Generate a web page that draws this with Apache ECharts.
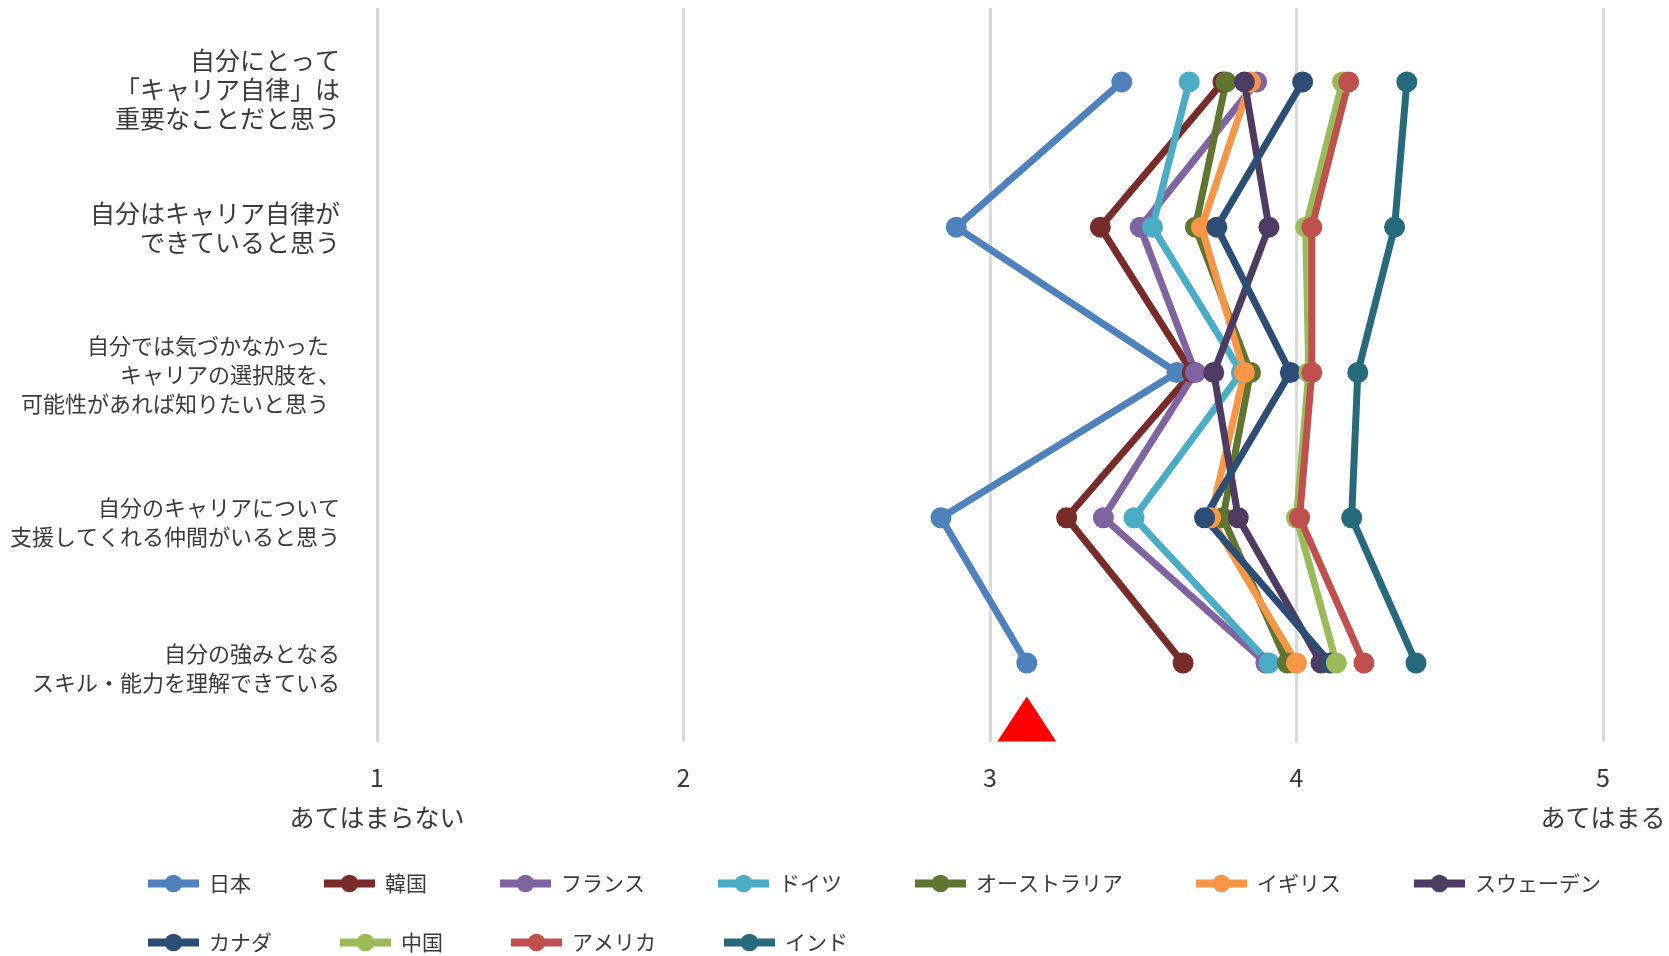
<!DOCTYPE html>
<html>
<head>
<meta charset="utf-8">
<script src="https://cdn.jsdelivr.net/npm/echarts@6/dist/echarts.min.js"></script>
<style>
  html, body { margin: 0; padding: 0; background: #ffffff; }
  #chart { width: 1669px; height: 956px; }
</style>
</head>
<body>
<div id="chart"></div>
<script>
// Survey statements (top to bottom)
const questions = [
  '自分にとって\n「キャリア自律」は\n重要なことだと思う',
  '自分はキャリア自律が\nできていると思う',
  '自分では気づかなかった\u2002\nキャリアの選択肢を、\n可能性があれば知りたいと思う\u2002',
  '自分のキャリアについて\n支援してくれる仲間がいると思う',
  '自分の強みとなる\nスキル・能力を理解できている'
];

// Mean score per statement (1 = あてはまらない … 5 = あてはまる)
const japan     = [3.43, 2.89, 3.61, 2.84, 3.12];
const korea     = [3.76, 3.36, 3.66, 3.25, 3.63];
const france    = [3.87, 3.49, 3.67, 3.37, 3.90];
const germany   = [3.65, 3.53, 3.82, 3.47, 3.91];
const australia = [3.77, 3.67, 3.85, 3.76, 3.97];
const uk        = [3.85, 3.69, 3.83, 3.72, 4.00];
const sweden    = [3.83, 3.91, 3.73, 3.81, 4.08];
const canada    = [4.02, 3.74, 3.98, 3.70, 4.11];
const china     = [4.15, 4.03, 4.04, 4.00, 4.13];
const usa       = [4.17, 4.05, 4.05, 4.01, 4.22];
const india     = [4.36, 4.32, 4.20, 4.18, 4.39];

const xTicks = [1, 2, 3, 4, 5];
const lowEndLabel = 'あてはまらない';
const highEndLabel = 'あてはまる';

const countryRows = [
  { name: '日本',           color: '#4F81BD', values: japan },
  { name: '韓国',           color: '#772C2A', values: korea },
  { name: 'フランス',       color: '#8064A2', values: france },
  { name: 'ドイツ',         color: '#4BACC6', values: germany },
  { name: 'オーストラリア', color: '#5F7530', values: australia },
  { name: 'イギリス',       color: '#F79646', values: uk },
  { name: 'スウェーデン',   color: '#4D3B62', values: sweden },
  { name: 'カナダ',         color: '#2C4D75', values: canada },
  { name: '中国',           color: '#9BBB59', values: china },
  { name: 'アメリカ',       color: '#C0504D', values: usa },
  { name: 'インド',         color: '#276A7C', values: india }
];

const FONT = '"Noto Sans CJK JP", "Noto Sans", sans-serif';
const TEXT_COLOR = '#3a3a3a';

// hidden numeric row axis: statement i sits at value (n - i)
const rowCount = questions.length;
const rowMin = 0.456;
const rowMax = 5.509;

const lineSeries = countryRows.map(c => ({
  name: c.name,
  type: 'line',
  yAxisIndex: 1,
  data: c.values.map((v, i) => [v, rowCount - i]),
  symbol: 'circle',
  symbolSize: 21,
  showSymbol: true,
  lineStyle: { width: 7, color: c.color },
  itemStyle: { color: c.color },
  emphasis: { disabled: true },
  clip: false,
  z: 2
}));

// red pointer under Japan's last statement
const pointerSeries = {
  name: 'pointer',
  type: 'scatter',
  yAxisIndex: 1,
  data: [[japan[rowCount - 1], rowMin]],
  symbol: 'triangle',
  symbolSize: [59, 45],
  symbolOffset: [0, -23],
  itemStyle: { color: '#FF0000', opacity: 1 },
  emphasis: { disabled: true },
  clip: false,
  silent: true,
  z: 3
};

const legendCommon = {
  left: 144,
  padding: 0,
  orient: 'horizontal',
  itemWidth: 51,
  itemHeight: 22,
  selectedMode: false,
  lineStyle: { width: 8 },
  textStyle: { fontFamily: FONT, fontSize: 21, color: TEXT_COLOR, padding: [0, 0, 0, 5] }
};

const chart = echarts.init(document.getElementById('chart'), null, { renderer: 'canvas' });

chart.setOption({
  animation: false,
  backgroundColor: '#ffffff',
  textStyle: { fontFamily: FONT },
  grid: { left: 377, right: 66, top: 8, bottom: 214, outerBoundsMode: 'none', containLabel: false },
  legend: [
    Object.assign({}, legendCommon, {
      top: 873,
      itemGap: 69,
      data: countryRows.slice(0, 7).map(c => c.name)
    }),
    Object.assign({}, legendCommon, {
      top: 932,
      itemGap: 64,
      data: countryRows.slice(7).map(c => c.name)
    })
  ],
  xAxis: {
    type: 'value',
    min: xTicks[0],
    max: xTicks[xTicks.length - 1],
    interval: 1,
    axisLine: { show: false },
    axisTick: { show: false },
    splitLine: { show: true, lineStyle: { color: '#dadada', width: 3 } },
    axisLabel: {
      margin: 15,
      fontFamily: FONT,
      fontSize: 25,
      lineHeight: 40,
      color: TEXT_COLOR,
      formatter: v => {
        if (v === xTicks[0]) return v + '\n' + lowEndLabel;
        if (v === xTicks[xTicks.length - 1]) return v + '\n' + highEndLabel;
        return String(v);
      }
    }
  },
  yAxis: [
    {
      type: 'category',
      data: questions,
      inverse: true,
      boundaryGap: true,
      axisLine: { show: false },
      axisTick: { show: false },
      splitLine: { show: false },
      axisLabel: {
        margin: 37,
        color: TEXT_COLOR,
        fontFamily: FONT,
        align: 'right',
        formatter: (value, index) => {
          const style = index < 2 ? 'big' : 'small';
          const body = value.split('\n').map(l => '{' + style + '|' + l + '}').join('\n');
          return index === 0 ? '{gap| }\n' + body : body;
        },
        rich: {
          big:   { fontFamily: FONT, fontSize: 25, lineHeight: 29, color: TEXT_COLOR, align: 'right' },
          small: { fontFamily: FONT, fontSize: 22, lineHeight: 29, color: TEXT_COLOR, align: 'right' },
          gap:   { fontFamily: FONT, fontSize: 10, lineHeight: 17, align: 'right' }
        }
      }
    },
    {
      type: 'value',
      show: false,
      min: rowMin,
      max: rowMax,
      splitLine: { show: false }
    }
  ],
  series: lineSeries.concat([pointerSeries])
});
</script>
</body>
</html>
